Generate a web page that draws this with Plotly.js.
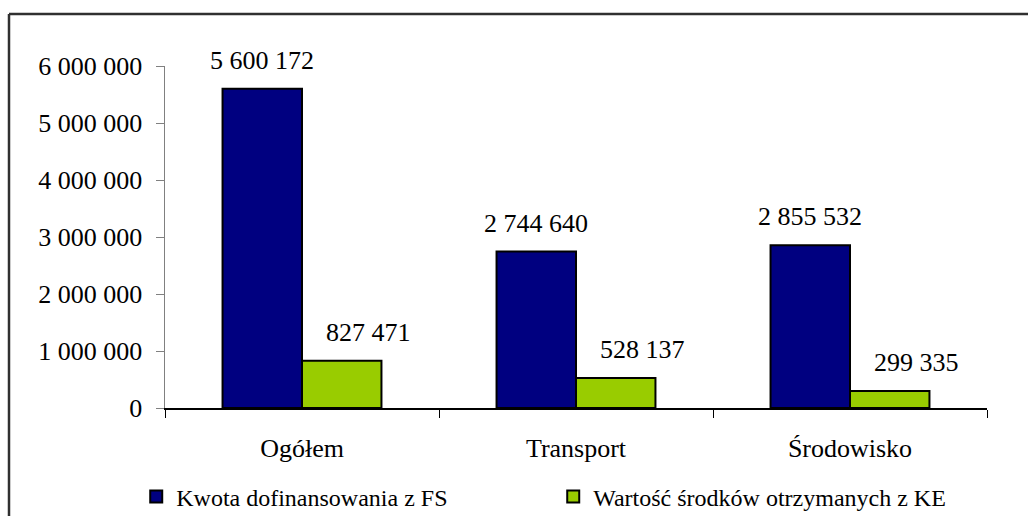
<!DOCTYPE html>
<html>
<head>
<meta charset="utf-8">
<script src="https://cdn.plot.ly/plotly-3.0.1.min.js"></script>
<style>html,body{margin:0;padding:0;background:#fff;}#chart{width:1028px;height:516px;}</style>
</head>
<body>
<div id="chart"></div>
<script>
const categories = ['Ogółem', 'Transport', 'Środowisko'];
const seriesNames = ['Kwota dofinansowania z FS', 'Wartość środków otrzymanych z KE'];
const fsValues = [5600172, 2744640, 2855532];
const keValues = [827471, 528137, 299335];
const yTickVals = [0, 1000000, 2000000, 3000000, 4000000, 5000000, 6000000];
const yTickText = ['0', '1 000 000', '2 000 000', '3 000 000', '4 000 000', '5 000 000', '6 000 000'];

const fmt = v => String(v).replace(/\B(?=(\d{3})+(?!\d))/g, ' ');
const FONT = '"Liberation Serif", "Times New Roman", Times, serif';

const traces = [
  {type: 'bar', name: seriesNames[0], x: categories, y: fsValues,
   marker: {color: '#000080', line: {color: '#000000', width: 2}}, hoverinfo: 'none'},
  {type: 'bar', name: seriesNames[1], x: categories, y: keValues,
   marker: {color: '#99CC00', line: {color: '#000000', width: 2}}, hoverinfo: 'none'}
];

const annotations = [];
categories.forEach((c, i) => {
  annotations.push({x: c, y: fsValues[i], xref: 'x', yref: 'y', text: fmt(fsValues[i]),
    showarrow: false, yanchor: 'bottom', xshift: -40, yshift: 12,
    font: {family: FONT, size: 26, color: '#000'}});
  annotations.push({x: c, y: keValues[i], xref: 'x', yref: 'y', text: fmt(keValues[i]),
    showarrow: false, yanchor: 'bottom', xshift: 66, yshift: 12,
    font: {family: FONT, size: 26, color: '#000'}});
});

const layout = {
  width: 1028, height: 516,
  margin: {l: 165, r: 41, t: 66, b: 108, autoexpand: false},
  paper_bgcolor: '#ffffff', plot_bgcolor: '#ffffff',
  font: {family: FONT, size: 26, color: '#000'},
  barmode: 'group', bargap: 0.42, bargroupgap: 0,
  showlegend: true,
  legend: {orientation: 'h', xref: 'paper', x: -0.035, xanchor: 'left', yref: 'paper', y: -0.26, yanchor: 'middle',
    itemwidth: 30, entrywidth: 372, entrywidthmode: 'pixels',
    font: {family: FONT, size: 24, color: '#000'}, itemclick: false, itemdoubleclick: false},
  xaxis: {type: 'category', showline: true, linecolor: '#000', linewidth: 1.5,
    ticks: 'outside', tickson: 'boundaries', ticklen: 8, tickcolor: '#000', tickwidth: 1,
    ticklabelstandoff: 16, showgrid: false, zeroline: false, automargin: false,
    tickfont: {family: FONT, size: 26, color: '#000'}},
  yaxis: {range: [0, 6000000], tickvals: yTickVals, ticktext: yTickText,
    showline: true, linecolor: '#808080', linewidth: 1.5, automargin: false,
    ticks: 'outside', ticklen: 8, tickcolor: '#808080', tickwidth: 1,
    ticklabelstandoff: 8, showgrid: false, zeroline: false,
    tickfont: {family: FONT, size: 26, color: '#000'}},
  annotations: annotations,
  shapes: [
    {type: 'line', xref: 'paper', yref: 'paper', x0: (9 - 165) / 822, x1: 1.1, y0: (408 - 14) / 342, y1: (408 - 14) / 342,
     line: {color: '#303030', width: 2.5}},
    {type: 'line', xref: 'paper', yref: 'paper', x0: (9 - 165) / 822, x1: (9 - 165) / 822, y0: (408 - 14) / 342, y1: -0.5,
     line: {color: '#303030', width: 2.5}}
  ]
};

Plotly.newPlot('chart', traces, layout, {staticPlot: true, displayModeBar: false});
</script>
</body>
</html>
